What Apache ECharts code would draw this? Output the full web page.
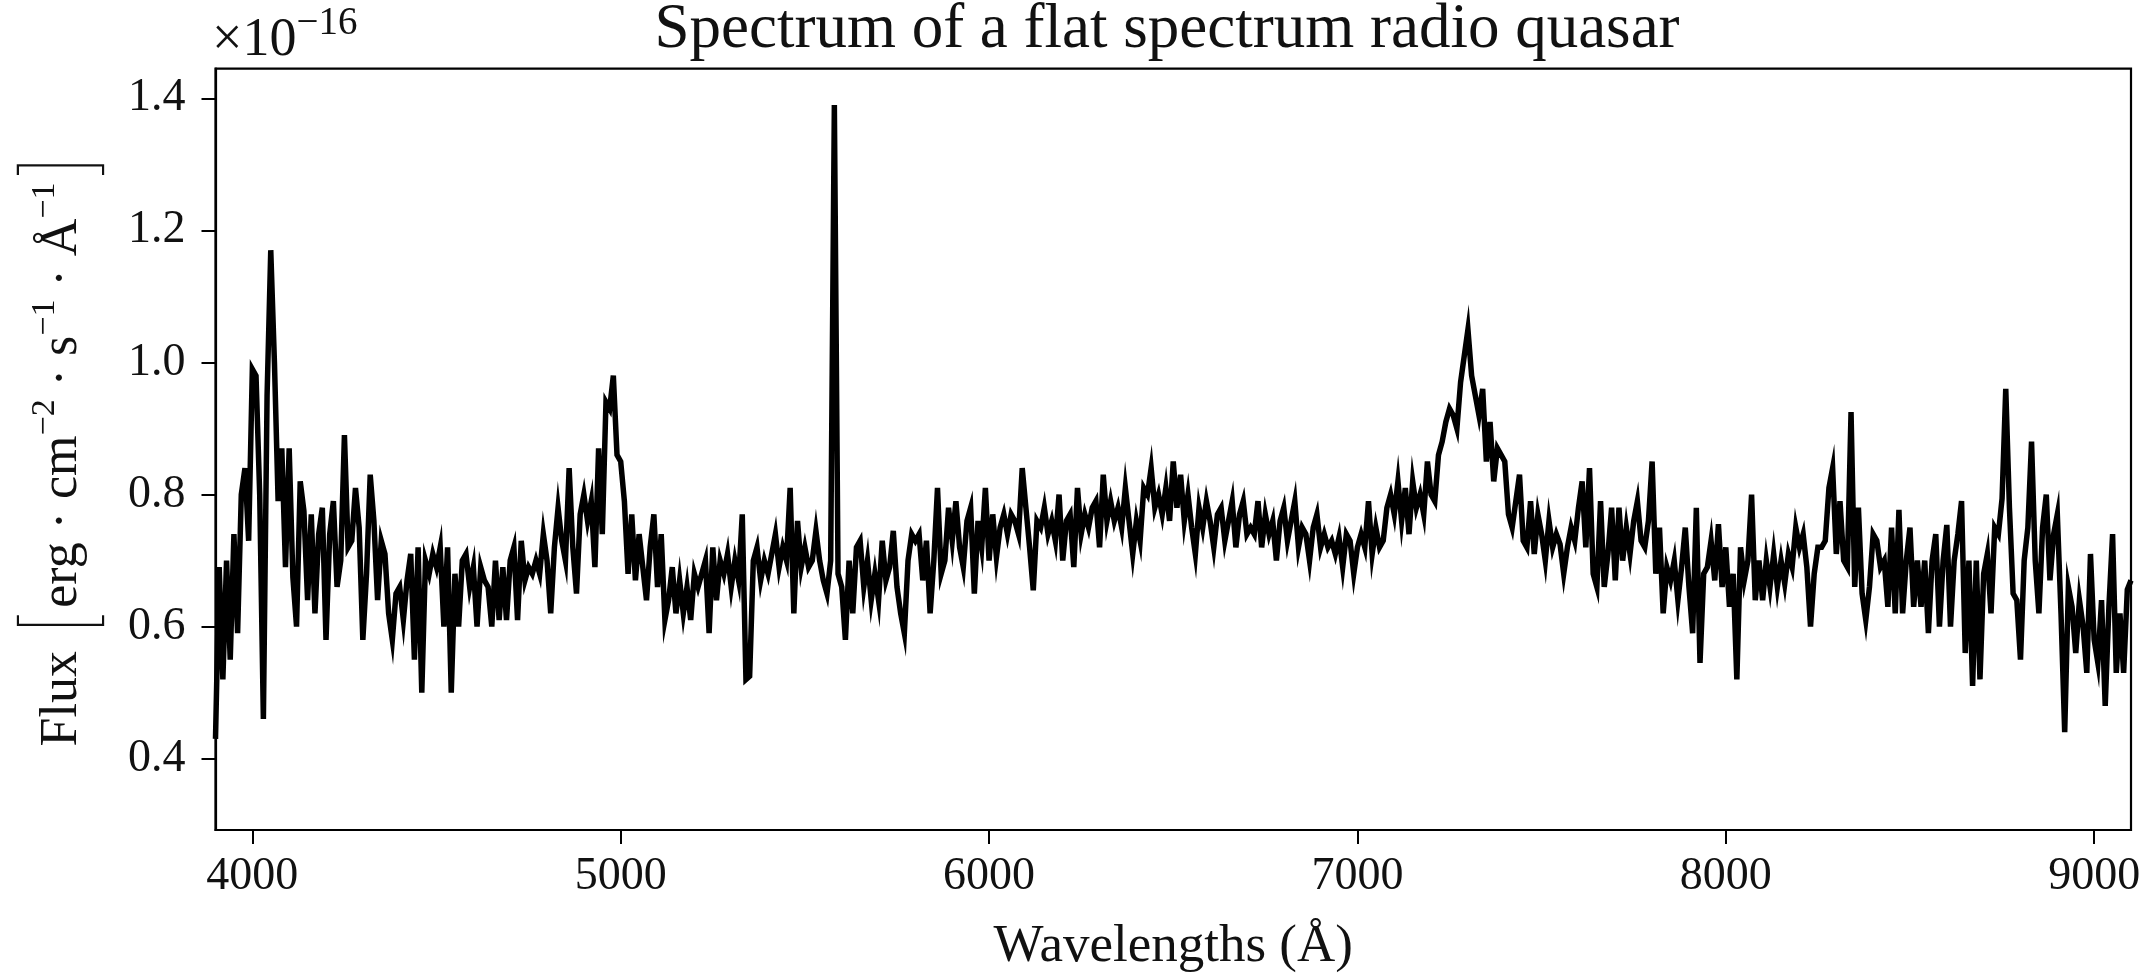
<!DOCTYPE html>
<html>
<head>
<meta charset="utf-8">
<script src="https://cdn.jsdelivr.net/npm/echarts@6/dist/echarts.min.js"></script>
<style>
  html, body { margin: 0; padding: 0; background: #ffffff; }
  #chart { width: 2152px; height: 974px; }
</style>
</head>
<body>
<div id="chart"></div>
<script>
// Flux density in units of 1e-16 erg/cm^2/s/Å, sampled every 10 Å.
// Each block starts at the wavelength given in its name.
const STEP = 10;
const FLUX_3900 = [
  0.43,0.69,0.52,0.70,0.55,0.74,0.59,0.80,0.84,0.73,
  0.99,0.98,0.80,0.46,0.95,1.17,1.00,0.79,0.87,0.69,
  0.87,0.675,0.60,0.82,0.775,0.64,0.77,0.62,0.74,0.78,
  0.58,0.74,0.79,0.66,0.70,0.89,0.72,0.73,0.81,0.75,
  0.58,0.68,0.83,0.76,0.64,0.73,0.71,0.62,0.58,0.65,
  0.66,0.61,0.67,0.71,0.55,0.72,0.50,0.70,0.68,0.71,
  0.69,0.72,0.60,0.72,0.50,0.68,0.60,0.70,0.71,0.66,
  0.69,0.60,0.69,0.67,0.66,0.60,0.70,0.61,0.69,0.61,
  0.70,0.72,0.61,0.73,0.67,0.69,0.68,0.70,0.68
];
const FLUX_4790 = [
  0.74,0.70,0.62,0.72,0.78,0.73,0.70,0.84,0.72,0.65,
  0.77,0.80,0.76,0.79,0.69,0.87,0.74,0.94,0.93,0.98,
  0.86,0.85,0.79,0.68,0.77,0.67,0.74,0.69,0.64,0.72,
  0.77,0.66,0.74,0.61,0.64,0.69,0.62,0.67,0.62,0.66,
  0.61,0.68,0.66,0.68,0.70,0.59,0.72,0.64,0.70,0.68,
  0.71,0.66,0.70,0.67,0.77,0.52,0.525,0.70,0.72,0.67,
  0.70,0.68,0.71,0.74,0.69,0.72,0.70,0.81,0.62,0.76,
  0.69,0.72,0.69,0.70,0.745,0.70,0.67,0.65,0.70,1.39,
  0.68,0.66,0.58,0.70,0.62,0.72
];
const FLUX_5650 = [
  0.73,0.66,0.70,0.64,0.68,0.64,0.73,0.67,0.69,0.745,
  0.66,0.62,0.59,0.70,0.74,0.73,0.74,0.67,0.73,0.62,
  0.70,0.81,0.68,0.70,0.78,0.73,0.79,0.72,0.69,0.76,
  0.78,0.65,0.76,0.72,0.81,0.70,0.77,0.705,0.75,0.77,
  0.74,0.77,0.76,0.74,0.84,0.78,0.72,0.655,0.76,0.75,
  0.78,0.74,0.76,0.73,0.80,0.70,0.76,0.77,0.69,0.81,
  0.74,0.77,0.75,0.78,0.79,0.72,0.83,0.76,0.79,0.76,
  0.78,0.75,0.81,0.76,0.71,0.76,0.73,0.81,0.80,0.84,
  0.78,0.80,0.77,0.81,0.76,0.85,0.78
];
const FLUX_6520 = [
  0.83,0.76,0.80,0.75,0.71,0.78,0.75,0.79,0.76,0.72,
  0.77,0.78,0.73,0.76,0.79,0.72,0.77,0.79,0.74,0.75,
  0.74,0.79,0.72,0.77,0.74,0.76,0.70,0.76,0.78,0.73,
  0.76,0.79,0.72,0.75,0.74,0.70,0.75,0.77,0.72,0.74,
  0.72,0.73,0.71,0.735,0.69,0.74,0.73,0.68,0.72,0.74,
  0.72,0.79,0.71,0.75,0.72,0.73,0.78,0.80,0.77,0.82,
  0.76,0.81,0.74,0.82,0.78,0.80,0.77,0.85,0.80,0.79,
  0.86,0.88,0.91,0.93,0.92,0.90,0.97,1.01,1.05,0.98,
  0.95,0.92,0.96,0.85,0.91,0.82,0.87
];
const FLUX_7390 = [
  0.86,0.85,0.77,0.75,0.79,0.83,0.73,0.72,0.79,0.71,
  0.77,0.74,0.70,0.76,0.72,0.74,0.725,0.68,0.72,0.75,
  0.73,0.78,0.82,0.72,0.84,0.68,0.66,0.79,0.66,0.71,
  0.78,0.67,0.78,0.70,0.75,0.71,0.76,0.79,0.73,0.72,
  0.76,0.85,0.68,0.75,0.62,0.69,0.67,0.70,0.64,0.69,
  0.75,0.66,0.59,0.78,0.545,0.68,0.69,0.73,0.67,0.755,
  0.66,0.72,0.63,0.68,0.52,0.72,0.67,0.70,0.80,0.64,
  0.70,0.64,0.70,0.66,0.71,0.66,0.70,0.665,0.71,0.69,
  0.75,0.72,0.74,0.69,0.60,0.68,0.72
];
const FLUX_8260 = [
  0.72,0.73,0.81,0.84,0.71,0.79,0.70,0.69,0.925,0.66,
  0.78,0.65,0.61,0.66,0.74,0.73,0.69,0.70,0.63,0.75,
  0.62,0.777,0.62,0.70,0.75,0.63,0.70,0.63,0.70,0.59,
  0.70,0.74,0.60,0.70,0.754,0.60,0.70,0.74,0.79,0.56,
  0.70,0.51,0.70,0.52,0.68,0.71,0.62,0.75,0.74,0.794,
  0.96,0.78,0.65,0.64,0.55,0.70,0.75,0.88,0.70,0.62,
  0.75,0.80,0.67,0.74,0.77,0.62,0.44,0.66,0.63,0.56,
  0.64,0.60,0.53,0.71,0.58,0.545,0.64,0.48,0.63,0.74,
  0.53,0.62,0.53,0.656,0.67
];
const BLOCKS = [
  [3900, FLUX_3900], [4790, FLUX_4790], [5650, FLUX_5650],
  [6520, FLUX_6520], [7390, FLUX_7390], [8260, FLUX_8260]
];

// Axis ranges and tick labels
const X_RANGE = [3900, 9100];
const X_TICKS = [4000, 5000, 6000, 7000, 8000, 9000];
const Y_RANGE = [0.292, 1.445];
const Y_TICKS = [0.4, 0.6, 0.8, 1.0, 1.2, 1.4];

const TITLE = 'Spectrum of a flat spectrum radio quasar';
const X_NAME = 'Wavelengths (Å)';

const spectrum = [];
BLOCKS.forEach(([start, values]) => {
  values.forEach((f, i) => spectrum.push([start + i * STEP, f]));
});

const FONT = '"Liberation Serif", "DejaVu Serif", serif';
const THIN = 'Inter, Lato, "Noto Sans", sans-serif';
const INK = '#111111';

const chart = echarts.init(document.getElementById('chart'), null, { renderer: 'canvas' });

chart.setOption({
  animation: false,
  backgroundColor: '#ffffff',
  grid: {
    left: 215.5, right: 21, top: 68.6, bottom: 144,
    show: true, borderColor: '#000000', borderWidth: 2.2,
    backgroundColor: 'transparent',
    containLabel: false,
    outerBoundsMode: 'none'
  },
  graphic: [
    {
      type: 'text', x: 1167, y: 30,
      style: {
        text: TITLE, fontFamily: FONT, fontSize: 63, fill: INK,
        align: 'center', verticalAlign: 'middle'
      }
    },
    {
      // axis offset (scale factor) above the y axis
      type: 'text', x: 212, y: 41,
      style: {
        text: '{a|×10}{b|−16}', fontFamily: FONT, fill: INK,
        align: 'left', verticalAlign: 'middle',
        rich: {
          a: { fontFamily: FONT, fontSize: 54, fill: INK, lineHeight: 58, verticalAlign: 'middle' },
          b: { fontFamily: FONT, fontSize: 39, fill: INK, lineHeight: 41, verticalAlign: 'middle', padding: [0, 0, 34, 0] }
        }
      }
    }
  ],
  xAxis: {
    type: 'value', min: X_RANGE[0], max: X_RANGE[1],
    axisLine: { show: true, onZero: false, lineStyle: { color: '#000', width: 2.2 } },
    axisTick: { show: true, length: 14, lineStyle: { color: '#000', width: 2 }, customValues: X_TICKS },
    axisLabel: {
      customValues: X_TICKS, fontFamily: FONT, fontSize: 46, color: INK, margin: 24,
      formatter: v => String(v)
    },
    splitLine: { show: false },
    name: X_NAME, nameLocation: 'middle', nameGap: 91,
    nameTextStyle: { fontFamily: FONT, fontSize: 53, color: INK }
  },
  yAxis: {
    type: 'value', min: Y_RANGE[0], max: Y_RANGE[1],
    axisLine: { show: true, onZero: false, lineStyle: { color: '#000', width: 2.2 } },
    axisTick: { show: true, length: 14, lineStyle: { color: '#000', width: 2 }, customValues: Y_TICKS },
    axisLabel: {
      customValues: Y_TICKS, fontFamily: FONT, fontSize: 46, color: INK, margin: 30,
      formatter: v => v.toFixed(1)
    },
    splitLine: { show: false },
    name: '{t|Flux }{k|[}{t|erg · cm}{s|−2}{t| · s}{s|−1}{t| · Å}{s|−1}{k|]}',
    nameLocation: 'middle', nameRotate: 90, nameGap: 103,
    nameTextStyle: {
      fontFamily: FONT, color: INK,
      rich: {
        t: { fontFamily: FONT, fontSize: 52, color: INK, lineHeight: 56, verticalAlign: 'middle' },
        s: { fontFamily: FONT, fontSize: 34, color: INK, lineHeight: 36, verticalAlign: 'middle', padding: [0, 0, 34, 0] },
        k: { fontFamily: THIN, fontWeight: 100, fontSize: 96, color: INK, lineHeight: 100, verticalAlign: 'middle' }
      }
    }
  },
  series: [{
    type: 'line',
    data: spectrum,
    showSymbol: false,
    clip: true,
    lineStyle: { color: '#000000', width: 5.5, join: 'miter' },
    emphasis: { disabled: true }
  }]
});
</script>
</body>
</html>
